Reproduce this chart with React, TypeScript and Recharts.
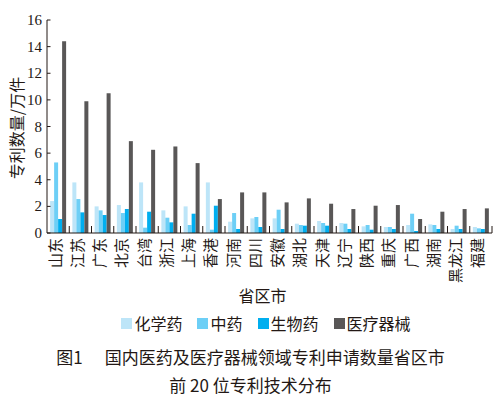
import React from 'react';
import { BarChart, Bar, XAxis, YAxis } from 'recharts';

const provinces = ['山东', '江苏', '广东', '北京', '台湾', '浙江', '上海', '香港', '河南', '四川', '安徽', '湖北', '天津', '辽宁', '陕西', '重庆', '广西', '湖南', '黑龙江', '福建'];
const chemical = [2.4, 3.8, 2.0, 2.1, 3.8, 1.7, 2.0, 3.8, 0.85, 1.1, 1.1, 0.7, 0.9, 0.75, 0.5, 0.45, 0.6, 0.65, 0.3, 0.45];
const tcm = [5.3, 2.55, 1.7, 1.5, 0.4, 1.15, 0.6, 0.25, 1.5, 1.2, 1.75, 0.6, 0.75, 0.7, 0.6, 0.45, 1.45, 0.6, 0.55, 0.35];
const bio = [1.05, 1.55, 1.35, 1.8, 1.6, 0.8, 1.45, 2.05, 0.3, 0.45, 0.3, 0.55, 0.55, 0.3, 0.25, 0.3, 0.15, 0.3, 0.3, 0.3];
const device = [14.4, 9.9, 10.5, 6.9, 6.25, 6.5, 5.25, 2.55, 3.05, 3.05, 2.3, 2.6, 2.2, 1.8, 2.05, 2.1, 1.05, 1.6, 1.8, 1.85];
const yTicks = [0, 2, 4, 6, 8, 10, 12, 14, 16];

const seriesKeys = ['chemical', 'tcm', 'bio', 'device'];
const seriesNames = ['化学药', '中药', '生物药', '医疗器械'];
const seriesColors = ['#bde5f8', '#6dcff6', '#00aeef', '#595757'];

const data = provinces.map((name, i) => ({
  name,
  chemical: chemical[i],
  tcm: tcm[i],
  bio: bio[i],
  device: device[i],
}));

const INK = '#231815';
const CJK = '"Noto Sans CJK SC", sans-serif';
const SERIF = '"Liberation Serif", serif';

// plot area
const AXIS_X = 47;
const PLOT_RIGHT = 492;
const PLOT_BOTTOM = 233;
const BAND = (PLOT_RIGHT - AXIS_X) / provinces.length;

const YTick = (props: any) => {
  const { y, payload } = props;
  return (
    <g>
      <line x1={AXIS_X} x2={AXIS_X + 3.5} y1={y} y2={y} stroke={INK} strokeWidth={1} />
      <text x={AXIS_X - 5} y={y} dy={5} textAnchor="end" fontFamily={SERIF} fontSize={15} fill={INK}>
        {payload.value}
      </text>
    </g>
  );
};

const XTick = (props: any) => {
  const { x, payload, index } = props;
  const left = x - BAND / 2;
  const right = x + BAND / 2;
  const tx = x - 3;
  const ty = PLOT_BOTTOM + 5;
  return (
    <g>
      {index > 0 && <line x1={left} x2={left} y1={PLOT_BOTTOM} y2={PLOT_BOTTOM - 7} stroke={INK} strokeWidth={1} />}
      {index === provinces.length - 1 && (
        <line x1={right} x2={right} y1={PLOT_BOTTOM} y2={PLOT_BOTTOM - 7} stroke={INK} strokeWidth={1} />
      )}
      <text
        x={tx}
        y={ty}
        dy="0.36em"
        textAnchor="end"
        transform={`rotate(-90, ${tx}, ${ty})`}
        fontFamily={CJK}
        fontSize={15}
        fill={INK}
      >
        {payload.value}
      </text>
    </g>
  );
};

export default function App() {
  return (
    <div style={{ position: 'absolute', left: 0, top: 0, width: 501, height: 398, background: '#fff', fontFamily: CJK, color: INK }}>
      <BarChart
        width={501}
        height={300}
        data={data}
        margin={{ top: 20, right: 501 - PLOT_RIGHT, left: 0, bottom: 0 }}
        barCategoryGap="14%"
        barGap={0}
      >
        <XAxis
          dataKey="name"
          interval={0}
          height={300 - PLOT_BOTTOM}
          tickLine={false}
          axisLine={{ stroke: INK, strokeWidth: 1 }}
          tick={<XTick />}
        />
        <YAxis
          width={AXIS_X}
          domain={[0, 16]}
          ticks={yTicks}
          interval={0}
          tickLine={false}
          axisLine={{ stroke: INK, strokeWidth: 1 }}
          tick={<YTick />}
        />
        {seriesKeys.map((k, i) => (
          <Bar key={k} dataKey={k} name={seriesNames[i]} fill={seriesColors[i]} isAnimationActive={false} />
        ))}
      </BarChart>

      {/* y axis title */}
      <div
        style={{
          position: 'absolute',
          left: 16,
          top: 128,
          transform: 'translate(-50%, -50%) rotate(-90deg)',
          whiteSpace: 'nowrap',
          fontSize: 16,
          lineHeight: '16px',
        }}
      >
        专利数量/万件
      </div>

      {/* x axis title */}
      <div style={{ position: 'absolute', left: 0, width: 525, top: 285, textAlign: 'center', fontSize: 16, lineHeight: '20px' }}>
        省区市
      </div>

      {/* legend */}
      <div
        style={{
          position: 'absolute',
          left: 0,
          width: 532,
          top: 312,
          display: 'flex',
          justifyContent: 'center',
          gap: 15,
          fontSize: 16,
          lineHeight: '22px',
        }}
      >
        {seriesNames.map((n, i) => (
          <div key={n} style={{ display: 'flex', alignItems: 'center' }}>
            <span style={{ width: 11, height: 11, background: seriesColors[i], marginRight: 2, display: 'inline-block' }} />
            <span>{n}</span>
          </div>
        ))}
      </div>

      {/* caption */}
      <div style={{ position: 'absolute', left: 0, width: 501, top: 346, textAlign: 'center', fontSize: 17, lineHeight: '22px' }}>
        图1<span style={{ display: 'inline-block', width: 22 }} />国内医药及医疗器械领域专利申请数量省区市
      </div>
      <div style={{ position: 'absolute', left: 0, width: 501, top: 374, textAlign: 'center', fontSize: 17, lineHeight: '22px' }}>
        前 20 位专利技术分布
      </div>
    </div>
  );
}
